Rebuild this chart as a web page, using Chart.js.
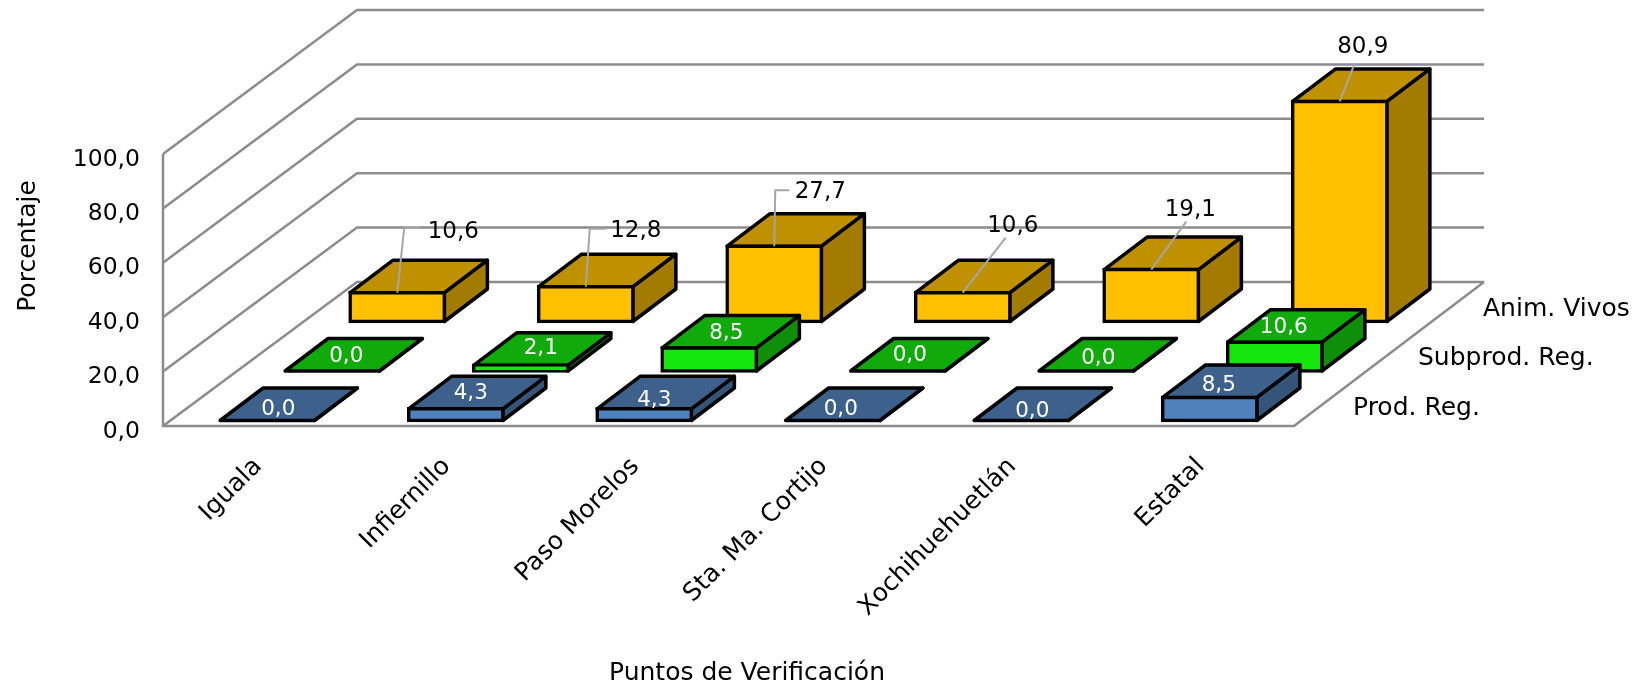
<!DOCTYPE html>
<html>
<head>
<meta charset="utf-8">
<style>
  html, body { margin: 0; padding: 0; background: #fff; }
  canvas { display: block; }
</style>
<script src="https://cdn.jsdelivr.net/npm/chart.js@4"></script>
</head>
<body>
<canvas id="grafica" width="1636" height="687"></canvas>
<script>
var categorias = ['Iguala', 'Infiernillo', 'Paso Morelos', 'Sta. Ma. Cortijo', 'Xochihuehuetlán', 'Estatal'];
var series = ['Prod. Reg.', 'Subprod. Reg.', 'Anim. Vivos'];
var prodReg = [0.0, 4.3, 4.3, 0.0, 0.0, 8.5];
var subprodReg = [0.0, 2.1, 8.5, 0.0, 0.0, 10.6];
var animVivos = [10.6, 12.8, 27.7, 10.6, 19.1, 80.9];

var fuente = '"DejaVu Sans"';
var tamanoTexto = 25;
var tamanoEje = 23.5;
var tamanoValor = 21.5;
var tamanoValorNegro = 23;

// how far each row sits back from the front plane
var filaX = 65, filaY = -49.5;
var origenX = 10, origenY = -5.5;
// bar depth
var fondoX = 43, fondoY = -32.5;
// floor depth
var pisoXizq = 194, pisoXder = 190, pisoY = -144;

var colores = [
  { frente: '#4F81BD', arriba: '#3D618B', lado: '#345479' },
  { frente: '#14E60E', arriba: '#10AA0B', lado: '#0E8E09' },
  { frente: '#FFC000', arriba: '#BF9000', lado: '#A37B00' }
];

// white labels, offset from the front top edge centre of the bar
var etiquetasBlancas = [
  [[11, -11], [15, -15], [10, -8], [8, -11], [11, -9], [9, -12]],
  [[14, -15], [20, -17], [17, -14], [12, -16], [12, -13], [9, -15]]
];
// black labels with leader lines: [knee x, knee y, end x, end y, text x, text y]
var guias = [
  [7, -65, 23, -65, 56, -61],
  [4, -58, 20, -58, 50, -56],
  [1, -56, 15, -56, 46, -54],
  [43, -55, 43, -55, 50, -67],
  [35, -48, 35, -48, 39, -60],
  [15, -38, 15, -38, 23, -54]
];

function coma(v) {
  return v.toFixed(1).replace('.', ',');
}

function desplazamiento(indice) {
  return { x: origenX + filaX * indice, y: origenY + filaY * indice };
}

function poligono(ctx, puntos, relleno) {
  ctx.beginPath();
  ctx.moveTo(puntos[0][0], puntos[0][1]);
  for (var k = 1; k < puntos.length; k++) ctx.lineTo(puntos[k][0], puntos[k][1]);
  ctx.closePath();
  ctx.fillStyle = relleno;
  ctx.fill();
  ctx.stroke();
}

var paredes = {
  id: 'paredes',
  beforeDatasetsDraw: function (chart) {
    var ctx = chart.ctx, y = chart.scales.y, a = chart.chartArea;
    ctx.save();
    ctx.strokeStyle = '#8C8C8C';
    ctx.lineWidth = 2.5;
    y.ticks.forEach(function (t) {
      var py = y.getPixelForValue(t.value);
      ctx.beginPath();
      ctx.moveTo(a.left, py);
      ctx.lineTo(a.left + pisoXizq, py + pisoY);
      ctx.lineTo(a.right + pisoXder, py + pisoY);
      ctx.stroke();
    });
    ctx.beginPath();
    ctx.moveTo(a.left, a.top);
    ctx.lineTo(a.left, a.bottom);
    ctx.lineTo(a.right, a.bottom);
    ctx.lineTo(a.right + pisoXder, a.bottom + pisoY);
    ctx.stroke();
    ctx.restore();
  }
};

var cajas = {
  id: 'cajas',
  beforeDatasetDraw: function (chart, args) {
    var ctx = chart.ctx, d = desplazamiento(args.index), c = colores[args.index];
    ctx.save();
    ctx.translate(d.x, d.y);
    ctx.strokeStyle = '#000';
    ctx.lineWidth = 3.5;
    ctx.lineJoin = 'round';
    args.meta.data.forEach(function (el) {
      var izq = el.x - el.width / 2, der = el.x + el.width / 2;
      poligono(ctx, [[der, el.y], [der, el.base], [der + fondoX, el.base + fondoY], [der + fondoX, el.y + fondoY]], c.lado);
      poligono(ctx, [[izq, el.y], [der, el.y], [der + fondoX, el.y + fondoY], [izq + fondoX, el.y + fondoY]], c.arriba);
    });
  },
  afterDatasetDraw: function (chart) {
    chart.ctx.restore();
  },
  afterDatasetsDraw: function (chart) {
    var ctx = chart.ctx, a = chart.chartArea;
    ctx.save();
    ctx.font = tamanoValor + 'px ' + fuente;
    ctx.textAlign = 'center';
    ctx.textBaseline = 'middle';

    // values on the two front rows
    [0, 1].forEach(function (i) {
      var d = desplazamiento(i);
      chart.getDatasetMeta(i).data.forEach(function (el, j) {
        var o = etiquetasBlancas[i][j];
        ctx.fillStyle = '#fff';
        ctx.fillText(coma(chart.data.datasets[i].data[j]), el.x + d.x + o[0], el.y + d.y + o[1]);
      });
    });

    // back row values and their leader lines
    var d2 = desplazamiento(2);
    ctx.font = tamanoValorNegro + 'px ' + fuente;
    chart.getDatasetMeta(2).data.forEach(function (el, j) {
      var g = guias[j], x0 = el.x + d2.x, y0 = el.y + d2.y;
      ctx.strokeStyle = '#A6A6A6';
      ctx.lineWidth = 2;
      ctx.beginPath();
      ctx.moveTo(x0, y0);
      ctx.lineTo(x0 + g[0], y0 + g[1]);
      ctx.lineTo(x0 + g[2], y0 + g[3]);
      ctx.stroke();
      ctx.fillStyle = '#000';
      ctx.fillText(coma(animVivos[j]), x0 + g[4], y0 + g[5]);
    });

    // depth axis names
    ctx.font = tamanoTexto + 'px ' + fuente;
    ctx.fillStyle = '#000';
    ctx.textAlign = 'left';
    series.forEach(function (s, i) {
      ctx.fillText(s, a.right + 59 + filaX * i, a.bottom - 18 + filaY * i);
    });

    // axis titles
    ctx.textAlign = 'center';
    ctx.fillText('Puntos de Verificación', 747, 673);
    ctx.translate(28, 246);
    ctx.rotate(-Math.PI / 2);
    ctx.fillText('Porcentaje', 0, 0);
    ctx.restore();
  }
};

function conjunto(nombre, valores, indice) {
  return {
    label: nombre,
    data: valores,
    backgroundColor: colores[indice].frente,
    borderColor: '#000',
    borderWidth: 3.5,
    borderSkipped: false,
    inflateAmount: 1.75,
    clip: false
  };
}

var grafica = new Chart(document.getElementById('grafica').getContext('2d'), {
  type: 'bar',
  data: {
    labels: categorias,
    datasets: [
      conjunto(series[0], prodReg, 0),
      conjunto(series[1], subprodReg, 1),
      conjunto(series[2], animVivos, 2)
    ]
  },
  options: {
    responsive: false,
    animation: false,
    layout: { padding: { top: 154, right: 342, left: 0, bottom: 0 } },
    plugins: { legend: { display: false }, tooltip: { enabled: false } },
    datasets: { bar: { grouped: false, barPercentage: 0.5, categoryPercentage: 1 } },
    scales: {
      x: {
        afterFit: function (s) { s.height = 261; },
        grid: { display: false },
        border: { display: false },
        ticks: {
          minRotation: 45,
          maxRotation: 45,
          autoSkip: false,
          padding: 18,
          labelOffset: 1,
          color: '#000',
          font: { family: fuente, size: tamanoTexto }
        }
      },
      y: {
        min: 0,
        max: 100,
        afterFit: function (s) { s.width = 163; },
        grid: { display: false },
        border: { display: false },
        ticks: {
          stepSize: 20,
          padding: 15,
          labelOffset: 5.5,
          color: '#000',
          font: { family: fuente, size: tamanoEje },
          callback: function (v) { return coma(v); }
        }
      }
    }
  },
  plugins: [paredes, cajas]
});
</script>
</body>
</html>
